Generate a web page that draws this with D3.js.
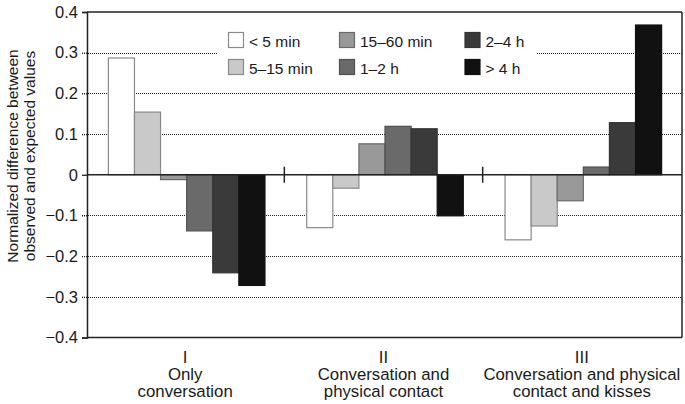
<!DOCTYPE html>
<html><head><meta charset="utf-8">
<script src="https://cdn.jsdelivr.net/npm/d3@7"></script>
<style>body{margin:0;background:#fff}svg{display:block}text{font-family:"Liberation Sans",Arial,sans-serif;fill:#1a1a1a}</style>
</head><body><svg id="c" width="685" height="404"></svg>
<script>
const groups = ["I", "II", "III"];
const groupLabels = [["I","Only","conversation"],["II","Conversation and","physical contact"],["III","Conversation and physical","contact and kisses"]];
const series = ["< 5 min","5–15 min","15–60 min","1–2 h","2–4 h","> 4 h"];
const colors = ["#ffffff","#c9c9c9","#999999","#6a6a6a","#3a3a3a","#111111"];
const strokes = ["#8a8a8a","#8a8a8a","#6a6a6a","#505050","#333333","#111111"];
const valuesI = [0.287, 0.154, -0.012, -0.138, -0.241, -0.272];
const valuesII = [-0.130, -0.033, 0.076, 0.119, 0.113, -0.101];
const valuesIII = [-0.160, -0.126, -0.064, 0.019, 0.128, 0.368];
const yTicks = [-0.4,-0.3,-0.2,-0.1,0,0.1,0.2,0.3,0.4];
const tickLabels = ["−0.4","−0.3","−0.2","−0.1","0","0.1","0.2","0.3","0.4"];
const data = [valuesI, valuesII, valuesIII];

const svg = d3.select("#c");
const L=87, R=682, T=12, B=337.5;
const y = d3.scaleLinear().domain([-0.4,0.4]).range([B,T]);
const x0 = d3.scaleBand().domain(groups).range([L,R]).padding(0);
const x1 = d3.scaleBand().domain(series).range([0,x0.bandwidth()]).paddingInner(0).paddingOuter(0.8);

// gridlines
const gridG = svg.append("g");
yTicks.filter(v=>Math.abs(v)>0.01 && Math.abs(v)<0.39).forEach(v=>{
  const segs = (Math.abs(v-0.3)<0.001) ? [[82,217],[537,R]] : [[82,R]];
  segs.forEach(s=>gridG.append("line").attr("x1",s[0]).attr("x2",s[1])
    .attr("y1",Math.round(y(v))+0.5).attr("y2",Math.round(y(v))+0.5)
    .attr("stroke","#222").attr("stroke-width",1.2).attr("stroke-dasharray","1,1"));
});

// bars
groups.forEach((g,gi)=>{
  const gg = svg.append("g").attr("transform",`translate(${x0(g)},0)`);
  gg.selectAll("rect").data(data[gi]).join("rect")
    .attr("x",(d,i)=>x1(series[i])+0.5)
    .attr("width",x1.bandwidth())
    .attr("y",d=>y(Math.max(0,d)))
    .attr("height",d=>Math.abs(y(d)-y(0)))
    .attr("fill",(d,i)=>colors[i])
    .attr("stroke",(d,i)=>strokes[i]).attr("stroke-width",1.2);
});

// frame
const fr = svg.append("g").attr("stroke","#222").attr("stroke-width",1.5).attr("fill","none");
fr.append("line").attr("x1",L).attr("x2",R).attr("y1",T).attr("y2",T);
fr.append("line").attr("x1",L).attr("x2",R).attr("y1",B).attr("y2",B);
fr.append("line").attr("x1",R).attr("x2",R).attr("y1",T).attr("y2",B);
fr.append("line").attr("x1",L).attr("x2",R).attr("y1",y(0)).attr("y2",y(0));
// separators
[x0("II"), x0("III")].forEach(xx=>fr.append("line").attr("x1",xx-1).attr("x2",xx-1).attr("y1",y(0)-8).attr("y2",y(0)+8));

// y axis
const yAxis = d3.axisLeft(y).tickValues(yTicks).tickSize(5).tickPadding(4)
  .tickFormat((d,i)=>tickLabels[i]);
const ag = svg.append("g").attr("transform",`translate(${L},0)`).call(yAxis);
ag.select(".domain").attr("stroke","#222").attr("stroke-width",1.5);
ag.selectAll(".tick line").attr("stroke","#222").attr("stroke-width",1.3)
  .attr("stroke-dasharray",(d)=>(Math.abs(d)>0.01&&Math.abs(d)<0.39)?"1,1":null);
ag.selectAll(".tick text").style("font-size","16.5px").attr("fill","#1a1a1a")
  .style("font-family","'Liberation Sans',Arial,sans-serif");

// y title
const yt = svg.append("text").attr("transform","translate(0,156) rotate(-90)")
  .attr("text-anchor","middle").style("font-size","15.5px");
yt.append("tspan").attr("x",0).attr("y",17.5).text("Normalized difference between");
yt.append("tspan").attr("x",0).attr("y",34.5).text("observed and expected values");

// category labels
groups.forEach((g,gi)=>{
  const t = svg.append("text").attr("text-anchor","middle").style("font-size","16.8px");
  groupLabels[gi].forEach((s,li)=>t.append("tspan").attr("x",x0(g)+x0.bandwidth()/2-1).attr("y",363+li*17).text(s));
});

// legend
const legX = [228.5,339.5,465], legY = [32.5,59.5];
series.forEach((s,i)=>{
  const cx = legX[Math.floor(i/2)], cy = legY[i%2];
  svg.append("rect").attr("x",cx).attr("y",cy).attr("width",15).attr("height",15)
    .attr("fill",colors[i]).attr("stroke",strokes[i]).attr("stroke-width",1.2);
  svg.append("text").attr("x",cx+20.5).attr("y",cy+14).style("font-size","15.5px").text(s);
});
</script></body></html>
